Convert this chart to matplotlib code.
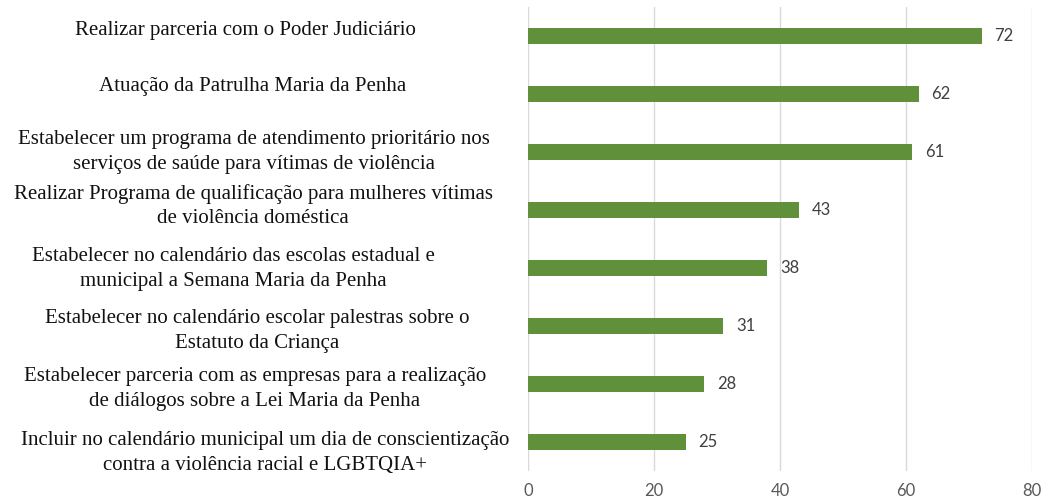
import matplotlib
matplotlib.use("Agg")
import matplotlib.pyplot as plt
from matplotlib.transforms import blended_transform_factory, offset_copy

categories = [
    "Realizar parceria com o Poder Judiciário",
    "Atuação da Patrulha Maria da Penha",
    "Estabelecer um programa de atendimento prioritário nos\nserviços de saúde para vítimas de violência",
    "Realizar Programa de qualificação para mulheres vítimas\nde violência doméstica",
    "Estabelecer no calendário das escolas estadual e\nmunicipal a Semana Maria da Penha",
    "Estabelecer no calendário escolar palestras sobre o\nEstatuto da Criança",
    "Estabelecer parceria com as empresas para a realização\nde diálogos sobre a Lei Maria da Penha",
    "Incluir no calendário municipal um dia de conscientização\ncontra a violência racial e LGBTQIA+",
]
values = [72, 62, 61, 43, 38, 31, 28, 25]
xticks = [0, 20, 40, 60, 80]

fig = plt.figure(figsize=(10.54, 4.99), dpi=100)
ax = fig.add_axes([528/1054, 1-471/499, 504/1054, 464/499])

ypos = list(range(len(values)))
ax.barh(ypos, values, height=0.26, color="#61903A", zorder=3)
ax.set_ylim(len(values)-0.5, -0.5)
ax.set_xlim(0, 80)
ax.set_xticks(xticks)
ax.set_xticklabels([str(t) for t in xticks], fontfamily="Lato", fontsize=12, color="#595959")
ax.tick_params(axis="x", length=0, pad=9)
ax.set_yticks([])
for s in ax.spines.values():
    s.set_visible(False)
ax.grid(axis="x", color="#d9d9d9", linewidth=1, zorder=0)

for y, v in zip(ypos, values):
    t = offset_copy(ax.transData, fig=fig, x=13, y=0, units="dots")
    ax.text(v, y, str(v), transform=t, ha="left", va="center",
            fontfamily="Lato", fontsize=12, color="#404040")

label_x = [245, 253, 254, 253, 233, 257, 255, 265]
label_dy = [-5, -7, 0, -4, 1, 5, 5, 11]
trans = blended_transform_factory(fig.transFigure, ax.transData)
for y, lab, lx, dy in zip(ypos, categories, label_x, label_dy):
    t = offset_copy(trans, fig=fig, x=0, y=-dy, units="dots")
    fig.text(lx/1054, y, lab, transform=t, ha="center", va="center",
             multialignment="center", fontfamily="Liberation Serif",
             fontsize=15, color="#111111", linespacing=1.4)

fig.savefig("out.png", dpi=100)
